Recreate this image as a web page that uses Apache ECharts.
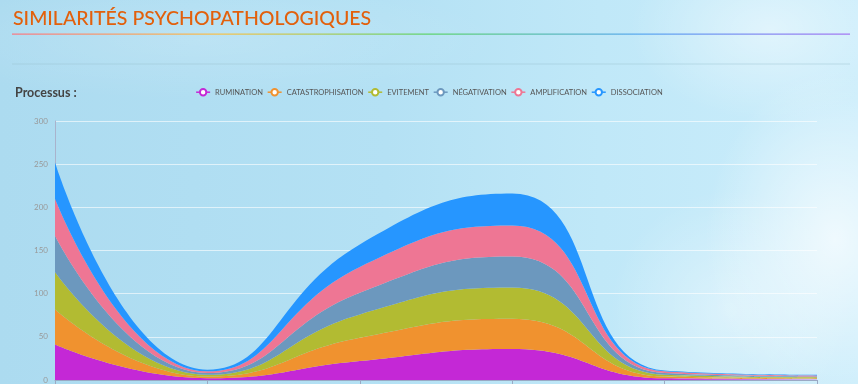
<!DOCTYPE html>
<html>
<head>
<meta charset="utf-8">
<script src="https://cdn.jsdelivr.net/npm/echarts@6/dist/echarts.min.js"></script>
<style>
html,body{margin:0;padding:0;width:858px;height:384px;overflow:hidden;}
body{
  background:
    radial-gradient(ellipse 130px 170px at 835px 240px, rgba(255,255,255,0.7), rgba(255,255,255,0) 100%),
    radial-gradient(ellipse 140px 90px at 770px 30px, rgba(255,255,255,0.45), rgba(255,255,255,0) 100%),
    radial-gradient(ellipse 120px 120px at 730px 310px, rgba(255,255,255,0.4), rgba(255,255,255,0) 100%),
    radial-gradient(ellipse 300px 60px at 200px 40px, rgba(255,255,255,0.15), rgba(255,255,255,0) 100%),
    linear-gradient(90deg, #acdbf0 0%, #b4e1f4 45%, #c0e8f8 70%, #cbedfb 100%);
}
#chart{width:858px;height:384px;}
</style>
</head>
<body>
<div id="chart"></div>
<script>
const titleText = 'SIMILARITÉS PSYCHOPATHOLOGIQUES';
const subTitle = 'Processus :';
const categories = ['1', '2', '3', '4', '5', '6'];
const seriesNames = ['RUMINATION', 'CATASTROPHISATION', 'EVITEMENT', 'NÉGATIVATION', 'AMPLIFICATION', 'DISSOCIATION'];
const rumination = [41, 2, 22, 36, 2, 1];
const catastrophisation = [41, 2, 27, 35, 2, 1];
const evitement = [43, 2, 27, 36, 2, 1];
const negativation = [42, 2, 25, 36, 2, 1];
const amplification = [43, 2, 30, 36, 2, 1];
const dissociation = [42, 2, 26, 37, 1, 1];
const yTicks = [0, 50, 100, 150, 200, 250, 300];
const colors = ['#c428d6', '#f0922f', '#b2bb32', '#6c98be', '#ee7694', '#2696ff'];

const allData = [rumination, catastrophisation, evitement, negativation, amplification, dissociation];

const chart = echarts.init(document.getElementById('chart'), null, {renderer: 'canvas'});
chart.setOption({
  animation: false,
  color: colors,
  title: [{
    text: titleText,
    left: 8, top: 4,
    textStyle: {fontFamily: 'Lato', fontSize: 19.5, fontWeight: 500, color: '#e2600c'}
  }, {
    text: subTitle,
    left: 10, top: 81,
    textStyle: {fontFamily: 'Lato', fontSize: 12.5, fontWeight: 'bold', color: '#444'}
  }],
  graphic: [{
    type: 'rect',
    shape: {x: 12, y: 33.5, width: 838, height: 1.2},
    style: {
      fill: new echarts.graphic.LinearGradient(0, 0, 1, 0, [
        {offset: 0, color: '#f77a86'},
        {offset: 0.25, color: '#f4c24e'},
        {offset: 0.5, color: '#5fd36e'},
        {offset: 0.75, color: '#5aa8f0'},
        {offset: 1, color: '#a477f2'}
      ])
    }
  }, {
    type: 'rect',
    shape: {x: 12, y: 63.5, width: 838, height: 1},
    style: {fill: 'rgba(150,190,205,0.45)'}
  }],
  legend: {
    left: 'center', top: 83,
    itemWidth: 14, itemHeight: 8, itemGap: 4,
    lineStyle: {width: 1.5},
    itemStyle: {borderWidth: 1.5},
    textStyle: {fontFamily: 'Lato', fontSize: 7.5, color: '#555'},
    data: seriesNames
  },
  grid: {left: 55, right: 41, top: 121, bottom: 3, containLabel: false},
  xAxis: {
    type: 'category', boundaryGap: false, data: categories,
    axisLine: {lineStyle: {color: '#9aa9c4'}},
    axisTick: {show: true, lineStyle: {color: '#9aa9c4'}},
    axisLabel: {show: false}
  },
  yAxis: {
    type: 'value', min: yTicks[0], max: yTicks[yTicks.length - 1], interval: 50,
    axisLine: {show: true, lineStyle: {color: '#a9b3cc'}},
    axisTick: {show: false},
    axisLabel: {fontFamily: 'Lato', fontSize: 8, color: '#999', margin: 7},
    splitLine: {lineStyle: {color: 'rgba(255,255,255,0.6)'}}
  },
  series: seriesNames.map((n, i) => ({
    name: n, type: 'line', stack: 'total', smooth: true,
    showSymbol: false, symbol: 'emptyCircle', symbolSize: 8,
    lineStyle: {width: 0},
    areaStyle: {opacity: 1},
    data: allData[i]
  }))
});
</script>
</body>
</html>
